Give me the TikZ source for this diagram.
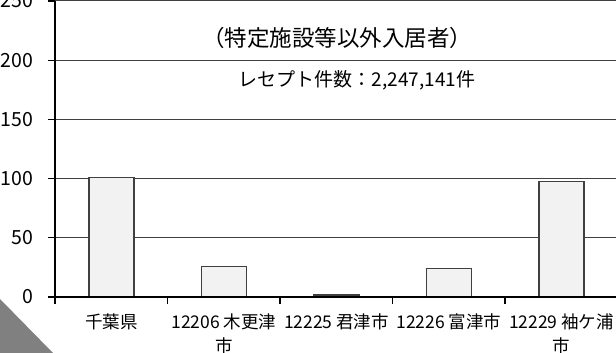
\documentclass[tikz,border=0pt]{standalone}
\usepackage{fontspec}
\setmainfont{Noto Sans CJK JP}
\usepackage{tikz}
\usetikzlibrary{positioning}
\definecolor{barfill}{HTML}{F2F2F2}
\definecolor{barline}{HTML}{404040}
\definecolor{cornergray}{HTML}{808080}
\tikzset{
  gridline/.style={draw=barline, line width=1pt},
  axisline/.style={draw=black, line width=1.6pt},
  bar/.style={draw=barline, fill=barfill, line width=1.4pt, minimum width=45pt, inner sep=0pt, anchor=south},
  ylab/.style={anchor=east, inner sep=0pt, font=\fontsize{19.5}{19.5}\selectfont},
  catlab/.style={anchor=north, align=center, inner sep=0pt, font=\fontsize{17.5}{24}\selectfont},
}

\begin{document}
\begin{tikzpicture}[x=1pt,y=1pt]
\useasboundingbox (0,0) rectangle (616,353);
\fill[cornergray] (0,54) -- (53,0) -- (0,0) -- cycle;
\begin{scope}[yshift=56pt, y=1.184pt]
\foreach \v in {50,100,...,250}
  \draw[gridline] (48,\v) -- (616,\v);
\foreach \v in {0,50,...,250}
  \node[ylab] (y\v) at (33.5,\v) {\v};
\node[bar, minimum height=119pt] (b1) at (111.5,0) {};
\node[bar, minimum height=29.6pt] (b2) at (224,0) {};
\node[bar, minimum height=1.4pt] (b3) at (336.5,0) {};
\node[bar, minimum height=27.6pt] (b4) at (449,0) {};
\node[bar, minimum height=115pt] (b5) at (561.5,0) {};
\draw[axisline] (55,0) -- (55,250);
\draw[axisline] (48,0) -- (616,0);
\foreach \t in {55,167.5,280,392.5,505}
  \draw[draw=black, line width=1.2pt] (\t,0) -- (\t,-6);
\foreach \v in {50,100,...,250}
  \draw[draw=black, line width=1.2pt] (48,\v) -- (55,\v);
\end{scope}
\coordinate (k1) at (111.5,56);
\coordinate (k2) at (224,56);
\coordinate (k3) at (336.5,56);
\coordinate (k4) at (449,56);
\coordinate (k5) at (561.5,56);
\node[catlab, below=17pt of k1] (c1) {千葉県};
\node[catlab, below=17pt of k2] (c2) {12206 木更津\\市};
\node[catlab, below=17pt of k3] (c3) {12225 君津市};
\node[catlab, below=17pt of k4] (c4) {12226 富津市};
\node[catlab, below=17pt of k5] (c5) {12229 袖ケ浦\\市};
\node[font=\fontsize{22.5}{22.5}\selectfont] (title) at (337,315) {（特定施設等以外入居者）};
\node[font=\fontsize{19}{19}\selectfont] (count) at (357,273) {レセプト件数：2,247,141件};
\end{tikzpicture}
\end{document}
